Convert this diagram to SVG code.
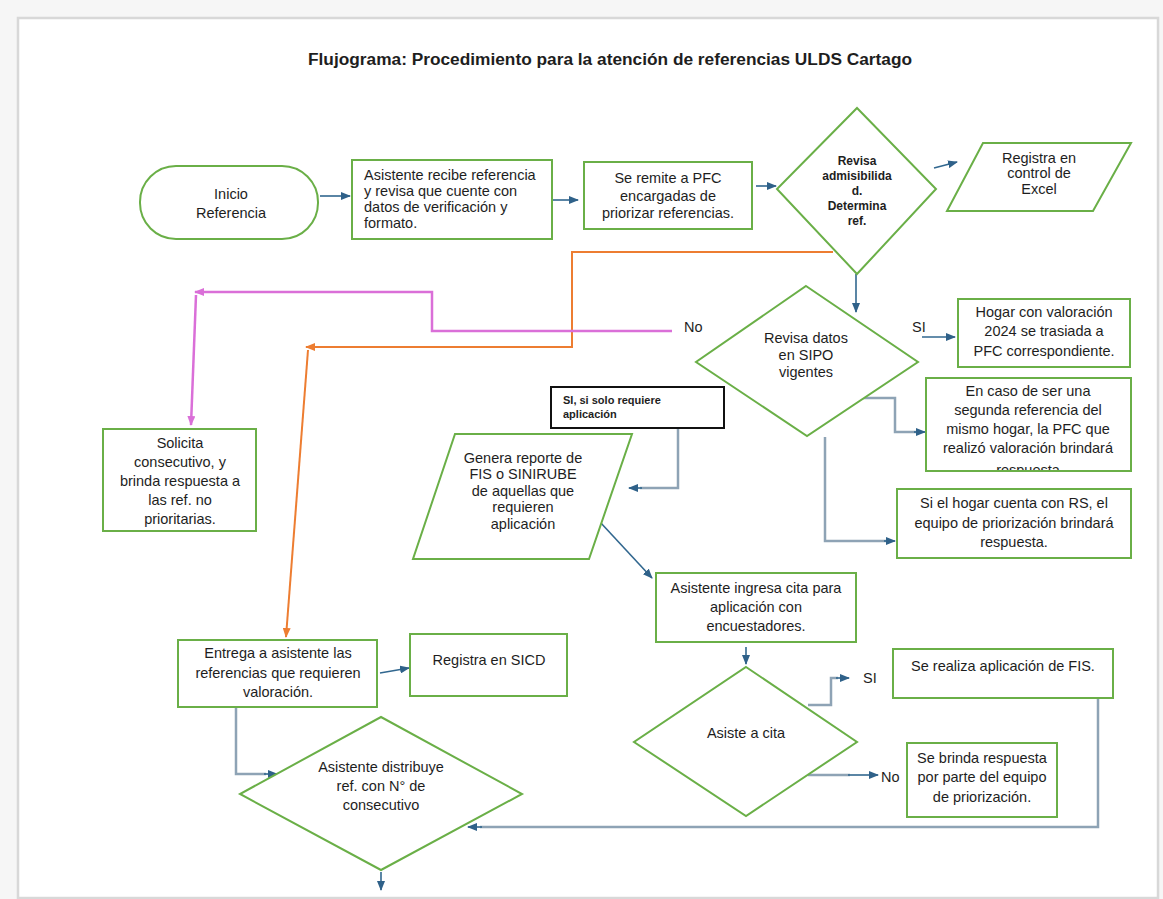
<svg xmlns="http://www.w3.org/2000/svg" width="1163" height="899" viewBox="0 0 1163 899">
<style>
.n{fill:#fff;stroke:#6aaf47;stroke-width:2}
.t{font-family:"Liberation Sans",Arial,sans-serif;font-size:14.5px;fill:#1e1e1e}
.c{text-anchor:middle}
.b{fill:none;stroke:#31678f;stroke-width:1.6}
.g{fill:none;stroke:#8ea3b5;stroke-width:2.5}
.o{fill:none;stroke:#ed7d31;stroke-width:2}
.m{fill:none;stroke:#da6fd8;stroke-width:2.5}
</style>
<defs>
<marker id="ab" markerWidth="10" markerHeight="8" refX="9" refY="4" orient="auto" markerUnits="userSpaceOnUse"><path d="M0,0 L10,4 L0,8 Z" fill="#2f6189"/></marker>
<marker id="ao" markerWidth="10" markerHeight="8" refX="9" refY="4" orient="auto" markerUnits="userSpaceOnUse"><path d="M0,0 L10,4 L0,8 Z" fill="#ed7d31"/></marker>
<marker id="am" markerWidth="10" markerHeight="8" refX="9" refY="4" orient="auto" markerUnits="userSpaceOnUse"><path d="M0,0 L10,4 L0,8 Z" fill="#da6fd8"/></marker>
<clipPath id="clipcaso"><rect x="927" y="379" width="203" height="91"/></clipPath>
</defs>
<rect x="0" y="0" width="1163" height="899" fill="#f6f6f6"/>
<rect x="18" y="18" width="1140" height="880" fill="#fff" stroke="#d8d8d8" stroke-width="2.5"/>
<text class="t c" x="610" y="65" style="font-size:16px;font-weight:bold" textLength="604" lengthAdjust="spacingAndGlyphs">Flujograma: Procedimiento para la atención de referencias ULDS Cartago</text>

<g id="connectors">
<path class="b" d="M320,196 L350,196" marker-end="url(#ab)"/>
<path class="b" d="M548,200 L578,200" marker-end="url(#ab)"/>
<path class="b" d="M756,186 L776,186" marker-end="url(#ab)"/>
<path class="b" d="M934,168 L957,162" marker-end="url(#ab)"/>
<path class="b" d="M856,274 L856,312" marker-end="url(#ab)"/>
<path class="o" d="M833,252 L572,252 L572,347 L306,347" marker-end="url(#ao)"/>
<path class="o" d="M308,350 L286,637" marker-end="url(#ao)"/>
<path class="m" d="M672,331 L432,331 L432,292 L195,292" marker-end="url(#am)"/>
<path class="m" d="M196,295 L191,425" marker-end="url(#am)"/>
<path class="b" d="M922,337 L955,337" marker-end="url(#ab)"/>
<path class="g" d="M862,398 L895,398 L895,432 L916,432"/>
<path class="b" d="M914,432 L925,432" marker-end="url(#ab)"/>
<path class="g" d="M825,437 L825,541 L886,541"/>
<path class="b" d="M884,541 L895,541" marker-end="url(#ab)"/>
<path class="g" d="M678,428 L678,488 L640,488"/>
<path class="b" d="M642,488 L629,488" marker-end="url(#ab)"/>
<path class="b" d="M600,522 L652,578" marker-end="url(#ab)"/>
<path class="b" d="M746,647 L746,664" marker-end="url(#ab)"/>
<path class="g" d="M808,705 L831,705 L831,678 L838,678"/>
<path class="b" d="M836,678 L849,678" marker-end="url(#ab)"/>
<path class="g" d="M808,775 L850,775"/>
<path class="b" d="M848,775 L878,775" marker-end="url(#ab)"/>
<path class="g" d="M1098,698 L1098,827 L480,827"/>
<path class="b" d="M482,827 L468,827" marker-end="url(#ab)"/>
<path class="b" d="M380,673 L409,668" marker-end="url(#ab)"/>
<path class="g" d="M236,707 L236,774 L266,774"/>
<path class="b" d="M264,774 L277,774" marker-end="url(#ab)"/>
<path class="b" d="M381,872 L381,890" marker-end="url(#ab)"/>
</g>

<g id="lbl-no1"><text class="t" x="684" y="332">No</text></g>
<g id="lbl-si1"><text class="t" x="912" y="332">SI</text></g>
<g id="lbl-si2"><text class="t" x="863" y="683">SI</text></g>
<g id="lbl-no2"><text class="t" x="881" y="782">No</text></g>

<g id="inicio">
<rect class="n" x="140" y="166" width="178" height="73" rx="36"/>
<text class="t c" x="231" y="199">Inicio</text>
<text class="t c" x="231" y="218">Referencia</text>
</g>
<g id="recibe">
<rect class="n" x="352" y="160" width="200" height="79"/>
<text class="t" x="364" y="180">Asistente recibe referencia</text>
<text class="t" x="364" y="196">y revisa que cuente con</text>
<text class="t" x="364" y="212">datos de verificación y</text>
<text class="t" x="364" y="228">formato.</text>
</g>
<g id="remite">
<rect class="n" x="584" y="162" width="168" height="67"/>
<text class="t c" x="668" y="183">Se remite a PFC</text>
<text class="t c" x="668" y="201">encargadas de</text>
<text class="t c" x="668" y="218">priorizar referencias.</text>
</g>
<g id="admisibilidad">
<path class="n" d="M857,108 L936,189 L857,274 L777,189 Z"/>
<g class="t c" style="font-size:12px;font-weight:bold">
<text x="857" y="165">Revisa</text>
<text x="857" y="180">admisibilida</text>
<text x="857" y="195">d.</text>
<text x="857" y="210">Determina</text>
<text x="857" y="225">ref.</text>
</g>
</g>
<g id="excel">
<path class="n" d="M983,143 L1131,143 L1093,211 L947,211 Z"/>
<text class="t c" x="1039" y="163">Registra en</text>
<text class="t c" x="1039" y="178">control de</text>
<text class="t c" x="1039" y="194">Excel</text>
</g>
<g id="sipo">
<path class="n" d="M806,286 L918,362 L807,436 L696,362 Z"/>
<text class="t c" x="806" y="343">Revisa datos</text>
<text class="t c" x="806" y="360">en SIPO</text>
<text class="t c" x="806" y="377">vigentes</text>
</g>
<g id="hogar2024">
<rect class="n" x="958" y="299" width="172" height="68"/>
<text class="t c" x="1044" y="317">Hogar con valoración</text>
<text class="t c" x="1044" y="336">2024 se trasiada a</text>
<text class="t c" x="1044" y="356">PFC correspondiente.</text>
</g>
<g id="segunda">
<rect class="n" x="926" y="378" width="205" height="93"/>
<text class="t c" x="1028" y="396">En caso de ser una</text>
<text class="t c" x="1028" y="415">segunda referencia del</text>
<text class="t c" x="1028" y="434">mismo hogar, la PFC que</text>
<text class="t c" x="1028" y="453">realizó valoración brindará</text>
<text class="t c" x="1028" y="475" clip-path="url(#clipcaso)">respuesta</text>
</g>
<g id="rs">
<rect class="n" x="897" y="489" width="234" height="69"/>
<text class="t c" x="1014" y="508">Si el hogar cuenta con RS, el</text>
<text class="t c" x="1014" y="528">equipo de priorización brindará</text>
<text class="t c" x="1014" y="547">respuesta.</text>
</g>
<g id="nota">
<rect x="551" y="387" width="173" height="41" fill="#fff" stroke="#111" stroke-width="2"/>
<text class="t" x="563" y="404" style="font-size:11px;font-weight:bold">SI, si solo requiere</text>
<text class="t" x="563" y="418" style="font-size:11px;font-weight:bold">aplicación</text>
</g>
<g id="reporte">
<path class="n" d="M455,434 L632,434 L589,559 L413,559 Z"/>
<text class="t c" x="523" y="463">Genera reporte de</text>
<text class="t c" x="523" y="479">FIS o SINIRUBE</text>
<text class="t c" x="523" y="496">de aquellas que</text>
<text class="t c" x="523" y="512">requieren</text>
<text class="t c" x="523" y="529">aplicación</text>
</g>
<g id="noprioritarias">
<rect class="n" x="103" y="429" width="153" height="102"/>
<text class="t c" x="180" y="448">Solicita</text>
<text class="t c" x="180" y="467">consecutivo, y</text>
<text class="t c" x="180" y="486">brinda respuesta a</text>
<text class="t c" x="180" y="505">las ref. no</text>
<text class="t c" x="180" y="524">prioritarias.</text>
</g>
<g id="cita">
<rect class="n" x="656" y="573" width="200" height="69"/>
<text class="t c" x="756" y="593">Asistente ingresa cita para</text>
<text class="t c" x="756" y="612">aplicación con</text>
<text class="t c" x="756" y="631">encuestadores.</text>
</g>
<g id="asiste">
<path class="n" d="M746,667 L857,742 L746,816 L634,742 Z"/>
<text class="t c" x="746" y="738">Asiste a cita</text>
</g>
<g id="fis">
<rect class="n" x="893" y="649" width="220" height="49"/>
<text class="t c" x="1003" y="671">Se realiza aplicación de FIS.</text>
</g>
<g id="respuesta">
<rect class="n" x="907" y="743" width="150" height="74"/>
<text class="t c" x="982" y="763">Se brinda respuesta</text>
<text class="t c" x="982" y="782">por parte del equipo</text>
<text class="t c" x="982" y="802">de priorización.</text>
</g>
<g id="entrega">
<rect class="n" x="178" y="640" width="199" height="67"/>
<text class="t c" x="278" y="658">Entrega a asistente las</text>
<text class="t c" x="278" y="678">referencias que requieren</text>
<text class="t c" x="278" y="697">valoración.</text>
</g>
<g id="sicd">
<rect class="n" x="410" y="634" width="157" height="62"/>
<text class="t c" x="489" y="665">Registra en SICD</text>
</g>
<g id="distribuye">
<path class="n" d="M381,717 L522,794 L381,870 L240,794 Z"/>
<text class="t c" x="381" y="772">Asistente distribuye</text>
<text class="t c" x="381" y="791">ref. con N° de</text>
<text class="t c" x="381" y="810">consecutivo</text>
</g>
</svg>
